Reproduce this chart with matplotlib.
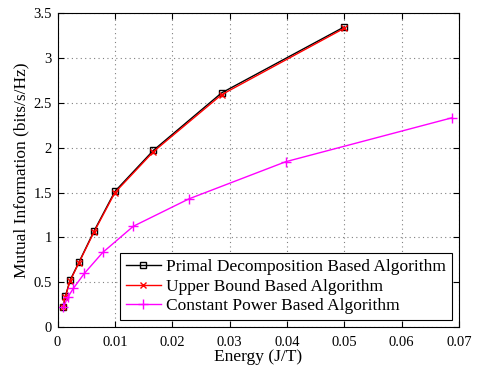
import matplotlib
matplotlib.use("Agg")
import matplotlib.pyplot as plt

# --- DATA ---
energy_pd = [0.00094, 0.00135, 0.00216, 0.00373, 0.00634, 0.0100, 0.0167, 0.0286, 0.0500]
mi_pd = [0.222, 0.344, 0.522, 0.726, 1.07, 1.514, 1.97, 2.61, 3.345]

energy_ub = [0.00094, 0.00135, 0.00216, 0.00373, 0.00634, 0.0100, 0.0167, 0.0286, 0.0500]
mi_ub = [0.222, 0.340, 0.515, 0.72, 1.06, 1.50, 1.955, 2.59, 3.33]

energy_cp = [0.0010, 0.00176, 0.00274, 0.00466, 0.00786, 0.0132, 0.0229, 0.0398, 0.0688]
mi_cp = [0.222, 0.333, 0.433, 0.60, 0.833, 1.125, 1.43, 1.844, 2.333]

plt.rcParams['font.family'] = 'Liberation Serif'
plt.rcParams['font.size'] = 12.5

fig = plt.figure(figsize=(4.79, 3.69), dpi=100)
ax = fig.add_axes([0.1203, 0.113, 0.958 - 0.1203, 0.9648 - 0.113])

ax.plot(energy_pd, mi_pd, color='black', marker='s', markersize=5,
        markerfacecolor='none', linewidth=1, label='Primal Decomposition Based Algorithm')
ax.plot(energy_ub, mi_ub, color='red', marker='x', markersize=5,
        linewidth=1, label='Upper Bound Based Algorithm')
ax.plot(energy_cp, mi_cp, color='magenta', marker='+', markersize=7,
        linewidth=1, label='Constant Power Based Algorithm')

ax.set_xlim(0, 0.07)
ax.set_ylim(0, 3.5)
ax.set_xticks([0, 0.01, 0.02, 0.03, 0.04, 0.05, 0.06, 0.07])
ax.set_xticklabels(['0', '0.01', '0.02', '0.03', '0.04', '0.05', '0.06', '0.07'])
ax.set_yticks([0, 0.5, 1, 1.5, 2, 2.5, 3, 3.5])
ax.set_yticklabels(['0', '0.5', '1', '1.5', '2', '2.5', '3', '3.5'])
ax.tick_params(direction='in', top=True, right=True, length=4, labelsize=10.5)
ax.tick_params(axis='x', pad=6)
ax.tick_params(axis='y', pad=4)
ax.grid(True, linestyle=(0, (1, 3)), color='gray', linewidth=0.8)

ax.set_xlabel('Energy (J/T)', labelpad=0)
ax.set_ylabel('Mutual Information (bits/s/Hz)', labelpad=3)

leg = ax.legend(loc='lower right', fancybox=False, framealpha=1,
                edgecolor='black', borderaxespad=0.4, handlelength=2.0,
                labelspacing=0.2, borderpad=0.35, handletextpad=0.3)
leg.get_frame().set_linewidth(0.8)

fig.savefig('out.png', dpi=100)
